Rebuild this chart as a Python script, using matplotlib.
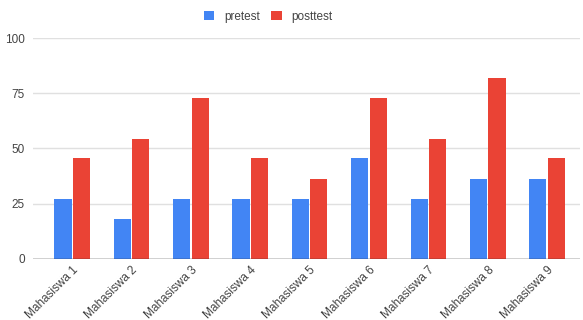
import numpy as np
import matplotlib.pyplot as plt

categories = ["Mahasiswa 1", "Mahasiswa 2", "Mahasiswa 3", "Mahasiswa 4", "Mahasiswa 5",
              "Mahasiswa 6", "Mahasiswa 7", "Mahasiswa 8", "Mahasiswa 9"]
pretest = [27.3, 18.2, 27.3, 27.3, 27.3, 45.5, 27.3, 36.4, 36.4]
posttest = [45.5, 54.5, 72.7, 45.5, 36.4, 72.7, 54.5, 81.8, 45.5]
yticks = [0, 25, 50, 75, 100]

plt.rcParams['font.family'] = ['Arial', 'Liberation Sans', 'DejaVu Sans']

fig = plt.figure(figsize=(5.83, 3.2), dpi=100)
ax = fig.add_axes([0.057, 0.191, 0.938, 0.690])

x = np.arange(len(categories))
w = 0.29
ax.bar(x - 0.155, pretest, w, color="#4285F4", label="pretest", zorder=3)
ax.bar(x + 0.155, posttest, w, color="#EA4335", label="posttest", zorder=3)

ax.set_ylim(0, 100)
ax.set_xlim(-0.657, 8.556)
ax.set_yticks(yticks)
ax.set_yticklabels([str(t) for t in yticks])
ax.grid(axis="y", color="#e0e0e0", linewidth=1, zorder=0)
ax.axhline(0, color="#333333", linewidth=1, zorder=4)

for s in ax.spines.values():
    s.set_visible(False)

ax.tick_params(axis="both", length=0, labelsize=8.5, labelcolor="#444444")
ax.tick_params(axis="y", pad=6)
ax.set_xticks(x)
ax.set_xticklabels(categories, rotation=45, ha="right", rotation_mode="anchor")

fig.legend(loc="upper center", bbox_to_anchor=(0.46, 1.0), ncol=2, frameon=False,
           fontsize=8.5, handlelength=0.9, handleheight=0.9, columnspacing=1.0,
           labelcolor="#444444")

fig.savefig("out.png", dpi=100)
